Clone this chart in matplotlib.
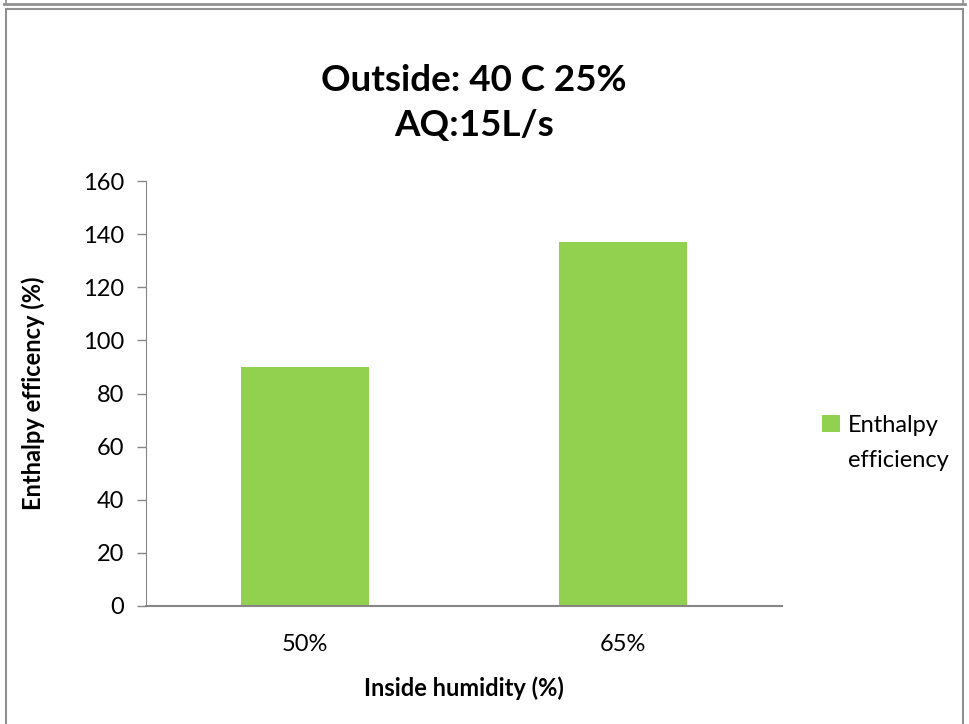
import matplotlib.pyplot as plt
from matplotlib.patches import Rectangle
from matplotlib.lines import Line2D

# data
categories = ['50%', '65%']
enthalpy_eff = [90, 137]
y_ticks = [0, 20, 40, 60, 80, 100, 120, 140, 160]

bar_color = '#92D050'
axis_color = '#868686'

plt.rcParams['font.family'] = ['Lato', 'DejaVu Sans']

fig = plt.figure(figsize=(9.69, 7.24), dpi=100)

# outer frames like the spreadsheet chart area
fig.add_artist(Line2D([0.004, 0.996], [1 - 4 / 724, 1 - 4 / 724], color='#909090', lw=2))
fig.add_artist(Line2D([0.006, 0.006], [1.0, 1 - 4 / 724], color='#909090', lw=1.2))
fig.add_artist(Line2D([0.994, 0.994], [1.0, 1 - 4 / 724], color='#909090', lw=1.2))
fig.add_artist(Rectangle((0.006, -0.01), 0.988, 1 - 9 / 724 + 0.01, fill=False,
                         edgecolor='#909090', lw=1.5, transform=fig.transFigure))

# plot area: x 146..782, y 181..606 in pixels
ax = fig.add_axes([146 / 969, 1 - 606 / 724, 636 / 969, 425 / 724])

x = range(len(categories))
ax.bar(x, enthalpy_eff, width=0.40, color=bar_color, label='Enthalpy', zorder=2)

ax.set_xlim(-0.5, len(categories) - 0.5)
ax.set_ylim(0, 160)
ax.set_yticks(y_ticks)
ax.set_xticks(list(x))
ax.set_xticklabels(categories)

for s in ['top', 'right']:
    ax.spines[s].set_visible(False)
ax.spines['left'].set_color(axis_color)
ax.spines['bottom'].set_color(axis_color)
ax.spines['bottom'].set_linewidth(1.5)
ax.tick_params(axis='y', colors=axis_color, labelcolor='black', labelsize=17,
               length=6.5, width=1, pad=9)
ax.tick_params(axis='x', length=0, labelsize=17, labelcolor='black', pad=20)

ax.set_ylabel('Enthalpy efficency (%)', fontsize=17, fontweight='bold')
ax.set_xlabel('Inside humidity (%)', fontsize=17, fontweight='bold')
ax.yaxis.set_label_coords(-0.159, 0.5)
ax.xaxis.set_label_coords(0.5, -0.165)

fig.text(474 / 969, 1 - 103 / 724, 'Outside: 40 C 25%\nAQ:15L/s', ha='center', va='center',
         fontsize=26.5, fontweight='bold', linespacing=1.45)

leg = fig.legend(loc='center left', bbox_to_anchor=(822 / 969, 1 - 425 / 724), frameon=False,
                 fontsize=17, handlelength=0.75, handleheight=0.75, handletextpad=0.35,
                 borderaxespad=0, borderpad=0)
# second line of the wrapped legend label
fig.text(848 / 969, 1 - 460 / 724, 'efficiency', ha='left', va='center', fontsize=17)

fig.savefig('out.png', dpi=100)
